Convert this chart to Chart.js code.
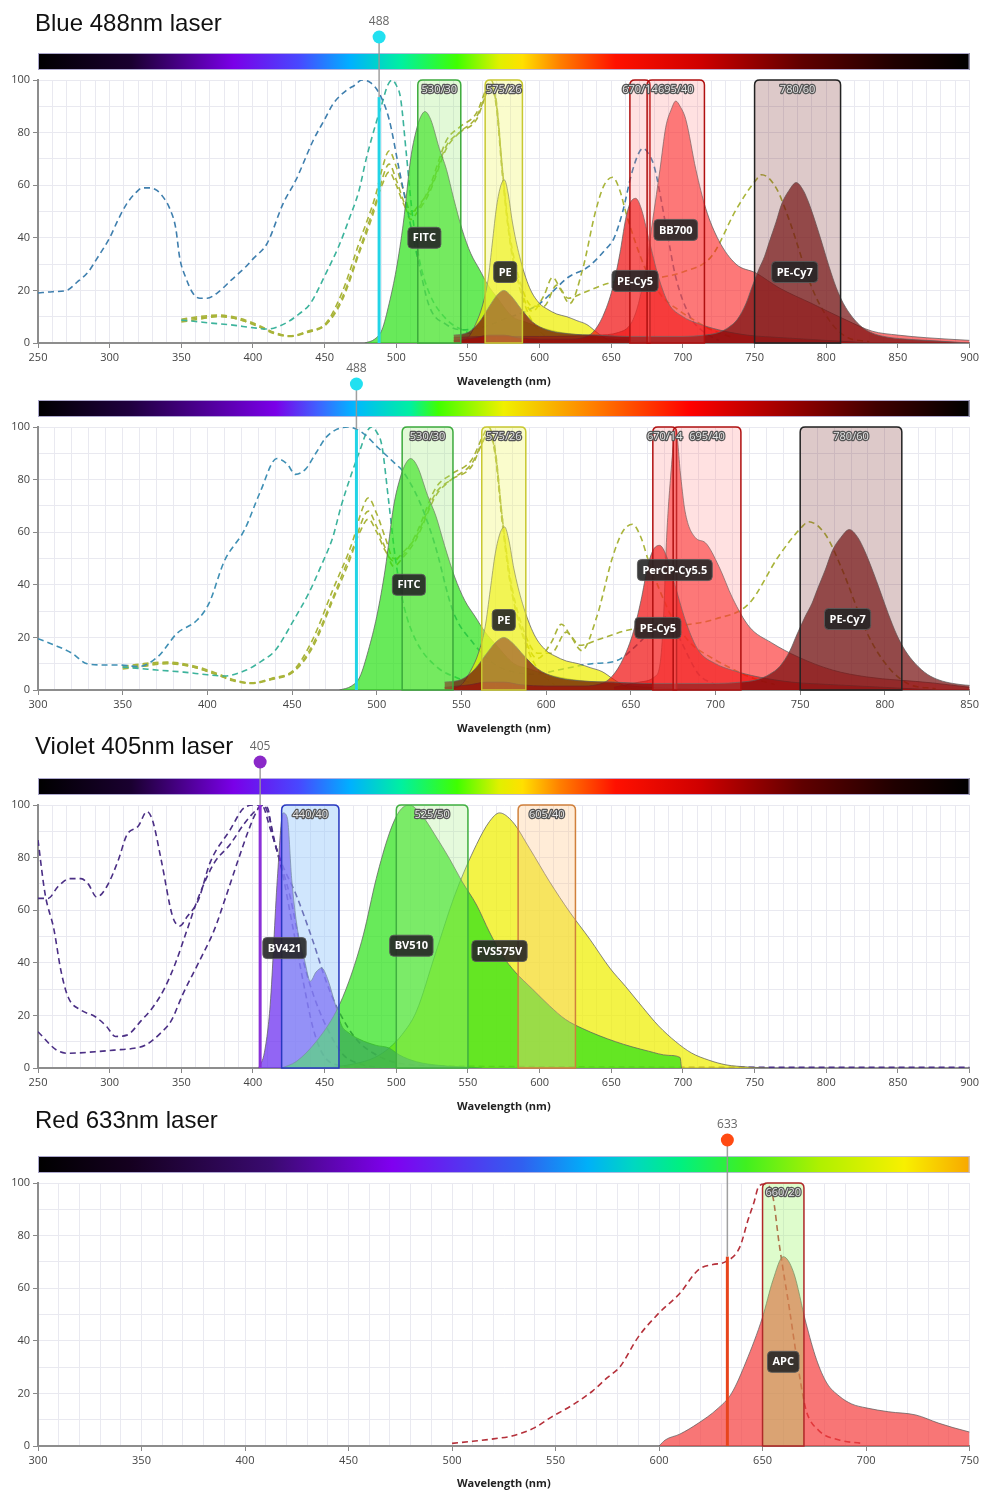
<!DOCTYPE html>
<html>
<head>
<meta charset="utf-8">
<title>Fluorochrome spectra</title>
<script src="https://cdn.jsdelivr.net/npm/chart.js"></script>
<style>
  body { margin: 0; background: #fff; }
  #page { position: relative; width: 982px; height: 1490px; overflow: hidden; }
  .panel { position: absolute; left: 0; width: 982px; }
  .title { position: absolute; left: 35px; font: 24px "Liberation Sans", Arial, sans-serif; color: #111; line-height: 28px; white-space: nowrap; }
</style>
</head>
<body>
<div id="page">
  <div class="panel" style="top:0px;height:392px"><canvas id="c1"></canvas></div>
  <div class="panel" style="top:330px;height:409px"><canvas id="c2"></canvas></div>
  <div class="panel" style="top:720px;height:397px"><canvas id="c3"></canvas></div>
  <div class="panel" style="top:1100px;height:390px"><canvas id="c4"></canvas></div>
  <div class="title" style="top:9px">Blue 488nm laser</div>
  <div class="title" style="top:732px">Violet 405nm laser</div>
  <div class="title" style="top:1106px">Red 633nm laser</div>
</div>

<script>
// ---------- shared spectra (blue laser panels) ----------
var fitcExNm = [350,360,370,386,400,410,423,432,440,451,460,467,474,479,485,490,494,497,500,503,507,511,516,523,535,546,560,580];
var fitcExVal = [8.7,8.2,7.6,6.8,5.8,5.3,7.6,11,15,26.6,37,47,58,70,82,91,98,100,98,93,72,50,32,19,9,5,2,0.5];

var peExNm = [350,362,376,390,405,415,426,438,451,462,474,486,490,495,500,505,510,515,523,535,544,556,563,566,570,574,579,586,595,605];
var peExVal = [9,10,10.6,9.5,6.5,4,2.7,4.5,7.6,19,38,57,66,73,67,58,50,51,59,77,82,87.5,97,100,91,66,40,21,8,2];

var peCy5ExNm = [350,362,376,390,405,415,426,438,451,462,474,486,490,495,500,505,510,515,523,535,544,556,563,566,570,574,579,586,595,
                 603,609,615,621,630,639,645,651,656,660,667,674,685,697,710,720,735];
var peCy5ExVal = [8,9,10,9,6,3.5,2.5,4,7,16,34,53,62,68,62,54,47,50,57,74,80,86,95,98,89,64,40,22,12,
                  18,25,20,15,28,50,60,63,58,50,38,28,18,12.5,8,5,2];

var peCy7ExNm = [350,362,376,390,405,415,426,438,451,462,474,486,490,495,500,505,510,515,523,535,544,556,563,566,570,574,579,586,595,
                 603,612,620,630,650,670,685,700,720,737,751,755,765,774,790,802,814,830];
var peCy7ExVal = [8.5,9.5,10.3,9,6,3.8,2.6,4.2,7.2,17,35,54,60,65,60,53,49,52,58,75,80,85,95,98,90,66,42,24,14,
                  14,22,17,19,23,24,25,27,33,50.6,62,64,59,47,21,8.7,2.3,0.5];

var fitcEmNm = [478,485,490,495,500,505,510,514,517,520,524,530,535,540,546,552,558,564,570,581,590,600,615,630,650,680,710];
var fitcEmVal = [0,1.5,5,15,28,46,70,81,86,88,85,74,66,55,43,34,28,22,17.5,10,8,6,4,3,1.5,0.5,0];

var peEmNm = [540,550,556,560,564,567,570,573,575.5,578,581,586,593,600,605,612,619,626,633,640,648,655];
var peEmVal = [0,2,8,14,24,38,52,60,62,57,46,33,21,15,13,11,10,8.5,7,4,1,0];

var peCy5EmNm = [540,555,565,575,585,600,620,630,637,644,651,656,660,663,667,671,676,683,690,700,710,725,745,770,800,830];
var peCy5EmVal = [1,2,3,3,2,1.5,1.5,2,4,10,21,34,47,53,55,51,40,25,15,10,7.5,5,3,2,1,0];

var peCy7EmNm = [540,550,558,565,570,575,580,587,595,605,620,640,660,680,700,715,725,732,738,744,
                 748,753,757,760,765,769,774,779,784,788,793,797,802,807,812,818,825,832,840,855,870,900];
var peCy7EmVal = [3,4,8,14,18,20,18,13,8,5,3.5,3,2.5,2.5,2.5,3,4,6,9,15,
                  21,28,33,38,46,53,58,61,58,53,45,38,29,21,15,10,6,3.8,2.5,1.5,1,0];

// ---------- panel 1: blue 488nm, BB700 ----------
var bb700ExNm = [250,260,270,277,285,291,300,306,312,318,323,328,333,338,342,346,349,353,358,363,
                 368,375,385,395,400,410,421,430,442,450,456,465,471,476,482,488,495,502,508,515,
                 523,535,546,560,575,590,600,610,620,634,645,652,658,664,669,672,676,680,688,695,705,715,725];
var bb700ExVal = [19,19.5,20,23,27,32,40,47,53,57,59,59,58,55,51,44,32,25,19,17,
                  17,19,24,29,32,38,53,62,77,85,91,96,98,100,99,95,85,66,50,32,
                  14,7,5,6,9,12,15,20,25,29,35,40,50,64,72,74,72,67,45,25,10,4,1];
var bb700EmNm = [540,560,600,640,655,664,669,674,679,684,688,692,695,698,702,709,716,725,737,751,767,790,814,832,850,870,900];
var bb700EmVal = [2,2.5,2.5,3,4,7.6,15,28,47,66,82,89,92,90,85,66,51,39,30,26.6,21,15,8.7,4.5,3,2,1];

var p1Filters = ['530/30', '575/26', '670/14', '695/40', '780/60'];
var p1Labels = ['FITC', 'PE', 'PE-Cy5', 'BB700', 'PE-Cy7'];
var p1LabelNm = [519.6, 576, 666.6, 695, 778];
var p1LabelVal = [40, 27, 23.6, 43, 27];

// ---------- panel 2: blue 488nm, PerCP-Cy5.5 ----------
var percpExNm = [300,310,320,329,340,348,359,371,382,394,401,410,422,431,441,447,452,458,464,470,
                 476,483,492,501,511,515,525,534,545,557,569,580,592,610,627,641,655,665,672,680,690,700];
var percpExVal = [19.5,17,14,10,9.5,9.5,8.9,12.8,21.5,26.6,33,49,61,75,88,86,82,84,90,96,
                  99,100,97.6,92,86,83.5,72,56,30,17.8,10,7,6,8,10,11,18,25,28,18,6,2];
var percpEmNm = [640,655,664,667.5,669.5,671,673.5,676.5,679.5,682,688,694,702,710,720,733,749,769,789,828,850];
var percpEmVal = [1,3,5,11,30,56,81,99,81,68,58,56,47,35,24,18,12.5,7.6,5,2.7,1];

var p2Filters = ['530/30', '575/26', '670/14', '695/40', '780/60'];
var p2Labels = ['FITC', 'PE', 'PerCP-Cy5.5', 'PE-Cy5', 'PE-Cy7'];
var p2LabelNm = [519, 575, 676, 666, 778];
var p2LabelVal = [40, 26.6, 45.6, 23.6, 27];

// ---------- panel 3: violet 405nm ----------
var vEx1Nm = [250,255,261,266,271,280,290,298,304,312,322,330,338,346,354,362,373,384,394,402,407,411,416,426,435,444,454,463,475,490];
var vEx1Val = [86.7,66,53,37,27,22,19.5,15.7,12,12.5,18,23,30,40,52.5,65,78,85,93,98,100,96,84,65,41,25,12.7,5,1.5,0];
var vEx2Nm = [250,257,264,272,280,285,291,298,306,312,320,326,330,336,344,349,354,362,370,384,
              394,402,410,414,420,430,442,451,460,472,486,500,520,600,700,800,900];
var vEx2Val = [64.5,64.5,69,72,72,70,65,69,79,88.6,92,97.5,94,79,57.5,54,57.5,64,78,90.5,
               99,100,99,88,78,66,48,33,21.5,11,5,2,1,0.5,0.3,0.3,0.3];
var vEx3Nm = [250,263,271,290,303,317,325,335,343,351,362,373,381,389,397,402,406,412,419,428,435,442,449,460,480];
var vEx3Val = [13.8,6.8,5.6,6.2,6.8,7.5,8.7,13,18,28,40,52.5,65,78,90.5,97,100,91,78,53,33,15,5,1,0];

var bv421EmNm = [404,408,412,417,421,424,427,431,436,440,444,448,452,457,462,466,474,486,495,502,514,530,560];
var bv421EmVal = [0,6,24,72,97,95,72,53,41,33,36.5,38,34,25,16,13.7,11,8.6,7.6,5,2.4,1,0];
var bv510EmNm = [420,430,444,458,467,477,486,495,502,509,518,527,537,546,556,565,574,583,595,607,618,630,653,676,690,698,699];
var bv510EmVal = [0,2.4,10,21.5,33,50.6,72,89,97.5,100,96,88.6,79.7,70.8,62,51.7,42.8,36.5,30,23.6,18.5,15,10,6.4,4.8,4,0];
var fvsEmNm = [450,470,485,495,504,514,527,541,556,565,572,581,593,607,621,635,649,660,672,683,695,706,718,730,745,760];
var fvsEmVal = [0,1.5,4,7.6,12.7,21.5,43,66,85,93.7,97,93.7,83.5,70.8,59.3,49,38,31,23,16,10,5.7,3,1.2,0.4,0];

var p3Filters = ['440/40', '525/50', '605/40'];
var p3Labels = ['BV421', 'BV510', 'FVS575V'];
var p3LabelNm = [422, 510.5, 572];
var p3LabelVal = [45.6, 46.5, 44.5];

// ---------- panel 4: red 633nm ----------
var apcExNm = [500,510,520,530,540,548,558,568,575,581,590,600,610,619,626,632,639,643,646,648,651,655,658,663,668,671,677,687,698];
var apcExVal = [1,1.8,2.7,4,7,11,15.5,21,26,30,41.5,50.6,58,67,69,70,75.6,86,93,98.5,99.6,94.7,77,52,26,13.7,6,2.3,1];
var apcEmNm = [600,603,610,619,628,635,642,650,655,660,665,671,676,681,687,693,700,711,724,735,742,750];
var apcEmVal = [0,2.3,4.5,8.7,14,20,32,49,63,72,66,46.7,33,24,19,16,14.5,13,11.8,8.7,7,5.3];

var p4Filters = ['660/20'];
var p4Labels = ['APC'];
var p4LabelNm = [660];
var p4LabelVal = [32];

// lasers: wavelength and drawn height of the coloured part
var laserNm = [488, 488, 405, 633];
var laserHeight = [93.5, 99, 100, 72];
var axisMin = [250, 300, 250, 300];
var axisMax = [900, 850, 900, 750];

// ---------- styles ----------
var BLUE_EX = '#3f7fae', TEAL_EX = '#3cb39c', OLIVE_EX = '#a9b43a', PURPLE_EX = '#4b2f85', RED_EX = '#b5303a';
var GREEN_FILL = 'rgba(40,225,20,0.70)', YELLOW_FILL = 'rgba(238,238,0,0.72)';

var spectrumFull = [[0,'#000000'],[0.1,'#1a0030'],[0.21,'#7a00e8'],[0.28,'#4848ff'],[0.335,'#00b0ff'],[0.39,'#00f0a0'],
                    [0.45,'#40ff00'],[0.495,'#e0f000'],[0.52,'#ffe000'],[0.56,'#ff8000'],[0.62,'#ff1000'],
                    [0.71,'#d00000'],[0.82,'#600000'],[0.92,'#200000'],[1,'#000000']];
var spectrum2 = [[0,'#000000'],[0.1,'#200040'],[0.255,'#7a00e8'],[0.30,'#4060ff'],[0.34,'#00b8ff'],[0.40,'#00f0a0'],
                 [0.43,'#40ff00'],[0.50,'#f0f000'],[0.595,'#ff8000'],[0.70,'#ff0000'],[0.80,'#a00000'],[0.90,'#400000'],[1,'#000000']];
var spectrum4 = [[0,'#000000'],[0.1,'#150020'],[0.25,'#3a0a70'],[0.38,'#8000f0'],[0.52,'#3060f0'],[0.59,'#00b0f8'],
                 [0.64,'#00d8c0'],[0.69,'#00f080'],[0.76,'#40f020'],[0.84,'#b0f000'],[0.93,'#f8f000'],[1,'#f8a800']];

function pts(nm, val) {
  return nm.map(function (x, i) { return { x: x, y: val[i] }; });
}
function em(label, nm, val, color, order) {
  return { label: label, data: pts(nm, val), fill: 'origin', backgroundColor: color,
           borderColor: 'rgba(95,95,95,0.75)', borderWidth: 1, pointRadius: 0,
           cubicInterpolationMode: 'monotone', order: order };
}
function ex(label, nm, val, color) {
  return { label: label, data: pts(nm, val), fill: false, borderColor: color, borderWidth: 1.6,
           borderDash: [6, 4], pointRadius: 0, cubicInterpolationMode: 'monotone', order: 100 };
}

function roundTop(ctx, x, y, w, h, r) {
  ctx.beginPath();
  ctx.moveTo(x, y + h);
  ctx.lineTo(x, y + r);
  ctx.quadraticCurveTo(x, y, x + r, y);
  ctx.lineTo(x + w - r, y);
  ctx.quadraticCurveTo(x + w, y, x + w, y + r);
  ctx.lineTo(x + w, y + h);
  ctx.closePath();
}
function roundBox(ctx, x, y, w, h, r) {
  ctx.beginPath();
  ctx.moveTo(x + r, y);
  ctx.lineTo(x + w - r, y); ctx.quadraticCurveTo(x + w, y, x + w, y + r);
  ctx.lineTo(x + w, y + h - r); ctx.quadraticCurveTo(x + w, y + h, x + w - r, y + h);
  ctx.lineTo(x + r, y + h); ctx.quadraticCurveTo(x, y + h, x, y + h - r);
  ctx.lineTo(x, y + r); ctx.quadraticCurveTo(x, y, x + r, y);
  ctx.closePath();
}

var spectraPlugin = {
  id: 'spectra',
  afterDatasetsDraw: function (chart) {
    var p = chart.canvas.panel, ctx = chart.ctx, xs = chart.scales.x, ys = chart.scales.y;
    var top = ys.getPixelForValue(100), bottom = ys.getPixelForValue(0);
    ctx.save();
    p.filters.forEach(function (name, i) {
      var cw = name.split('/').map(Number);
      var x1 = xs.getPixelForValue(cw[0] - cw[1] / 2), x2 = xs.getPixelForValue(cw[0] + cw[1] / 2);
      roundTop(ctx, x1, top, x2 - x1, bottom - top, 5);
      ctx.fillStyle = p.filterFill[i];
      ctx.fill();
      ctx.strokeStyle = p.filterLine[i];
      ctx.lineWidth = 1.5;
      ctx.stroke();
    });
    var lx = xs.getPixelForValue(p.laser);
    ctx.strokeStyle = p.laserColor;
    ctx.lineWidth = 3;
    ctx.beginPath();
    ctx.moveTo(lx, bottom);
    ctx.lineTo(lx, ys.getPixelForValue(p.laserHeight));
    ctx.stroke();
    ctx.restore();
  },
  afterDraw: function (chart) {
    var p = chart.canvas.panel, ctx = chart.ctx, xs = chart.scales.x, ys = chart.scales.y, a = chart.chartArea;
    ctx.save();
    // spectrum bar
    var barY = a.top - 27;
    var g = ctx.createLinearGradient(a.left, 0, a.right, 0);
    p.bar.forEach(function (s) { g.addColorStop(s[0], s[1]); });
    ctx.fillStyle = g;
    ctx.fillRect(a.left, barY, a.right - a.left, 17);
    ctx.strokeStyle = 'rgba(190,185,225,0.9)';
    ctx.lineWidth = 1;
    ctx.strokeRect(a.left + 0.5, barY + 0.5, a.right - a.left - 1, 16);

    // laser stem, dot and label
    var lx = xs.getPixelForValue(p.laser);
    var dotY = a.top - 43;
    ctx.strokeStyle = 'rgba(150,150,150,0.9)';
    ctx.lineWidth = 1.5;
    ctx.beginPath();
    ctx.moveTo(lx, dotY);
    ctx.lineTo(lx, ys.getPixelForValue(p.laserHeight));
    ctx.stroke();
    ctx.fillStyle = p.dotColor;
    ctx.beginPath();
    ctx.arc(lx, dotY, 6.5, 0, Math.PI * 2);
    ctx.fill();
    ctx.fillStyle = '#666';
    ctx.font = '12px "Open Sans", "Noto Sans", sans-serif';
    ctx.textAlign = 'center';
    ctx.textBaseline = 'middle';
    ctx.fillText(String(p.laser), lx, a.top - 58);

    // filter names
    var top = ys.getPixelForValue(100);
    ctx.font = '11px "Open Sans", "Noto Sans", sans-serif';
    ctx.lineJoin = 'round';
    p.filters.forEach(function (name) {
      var c = Number(name.split('/')[0]);
      var x = xs.getPixelForValue(c);
      ctx.strokeStyle = '#555';
      ctx.lineWidth = 2.5;
      ctx.strokeText(name, x, top + 10);
      ctx.fillStyle = '#e6e6e6';
      ctx.fillText(name, x, top + 10);
    });

    // dye badges
    ctx.font = 'bold 11px "Open Sans", "Noto Sans", sans-serif';
    p.labels.forEach(function (name, i) {
      var x = xs.getPixelForValue(p.labelNm[i]), y = ys.getPixelForValue(p.labelVal[i]);
      var w = ctx.measureText(name).width + 10, h = 21;
      roundBox(ctx, x - w / 2, y - h / 2, w, h, 4);
      ctx.fillStyle = 'rgba(38,38,38,0.9)';
      ctx.fill();
      ctx.strokeStyle = 'rgba(90,90,90,0.9)';
      ctx.lineWidth = 1;
      ctx.stroke();
      ctx.fillStyle = '#fff';
      ctx.fillText(name, x, y + 0.5);
    });
    ctx.restore();
  }
};

Chart.defaults.font.family = '"Open Sans", "Noto Sans", sans-serif';
Chart.defaults.font.size = 11;

function makePanel(id, cfg) {
  var canvas = document.getElementById(id);
  canvas.panel = cfg;
  return new Chart(canvas, {
    type: 'line',
    data: { datasets: cfg.datasets },
    plugins: [spectraPlugin],
    options: {
      responsive: true,
      maintainAspectRatio: false,
      animation: false,
      events: [],
      layout: { autoPadding: false, padding: { top: cfg.padTop, right: 11, bottom: 0, left: 0 } },
      plugins: { legend: { display: false }, tooltip: { enabled: false } },
      scales: {
        x: {
          type: 'linear', min: cfg.min, max: cfg.max,
          afterFit: function (s) { s.height = cfg.xHeight; },
          ticks: { stepSize: 10, autoSkip: false, maxRotation: 0, padding: 3, color: '#444',
                   callback: function (v) { return v % 50 === 0 ? v : ''; } },
          grid: { color: '#e9e9f0', lineWidth: 1, tickLength: 5,
                  tickColor: function (c) { return c.tick && c.tick.value % 50 === 0 ? '#888' : 'rgba(0,0,0,0)'; } },
          border: { color: '#8d8d8d', width: 2 },
          title: { display: true, text: 'Wavelength (nm)', color: '#222',
                   font: { size: 11, weight: 'bold' }, padding: { top: 4, bottom: cfg.titlePadBottom } }
        },
        y: {
          min: 0, max: 100,
          afterFit: function (s) { s.width = 38; },
          ticks: { stepSize: 10, padding: 3, color: '#444',
                   callback: function (v) { return v % 20 === 0 ? v : ''; } },
          grid: { color: '#e9e9f0', lineWidth: 1, tickLength: 5,
                  tickColor: function (c) { return c.tick && c.tick.value % 20 === 0 ? '#888' : 'rgba(0,0,0,0)'; } },
          border: { color: '#8d8d8d', width: 2 }
        }
      }
    }
  });
}

var REDBOX = 'rgba(255,120,120,0.22)';

makePanel('c1', {
  min: axisMin[0], max: axisMax[0], padTop: 80, xHeight: 49, titlePadBottom: 4,
  laser: laserNm[0], laserHeight: laserHeight[0], laserColor: '#22d4e6', dotColor: '#22e0f0', bar: spectrumFull,
  filters: p1Filters,
  filterFill: ['rgba(150,235,110,0.28)', 'rgba(240,245,110,0.35)', REDBOX, REDBOX, 'rgba(120,40,40,0.25)'],
  filterLine: ['#3caa3c', '#c8c830', '#b01010', '#b01010', '#222'],
  labels: p1Labels, labelNm: p1LabelNm, labelVal: p1LabelVal,
  datasets: [
    em('PE-Cy7', peCy7EmNm, peCy7EmVal, 'rgba(115,12,12,0.70)', 1),
    em('PE-Cy5', peCy5EmNm, peCy5EmVal, 'rgba(240,12,12,0.70)', 2),
    em('BB700', bb700EmNm, bb700EmVal, 'rgba(252,30,30,0.60)', 3),
    em('PE', peEmNm, peEmVal, YELLOW_FILL, 4),
    em('FITC', fitcEmNm, fitcEmVal, GREEN_FILL, 5),
    ex('BB700 ex', bb700ExNm, bb700ExVal, BLUE_EX),
    ex('FITC ex', fitcExNm, fitcExVal, TEAL_EX),
    ex('PE ex', peExNm, peExVal, OLIVE_EX),
    ex('PE-Cy5 ex', peCy5ExNm, peCy5ExVal, OLIVE_EX),
    ex('PE-Cy7 ex', peCy7ExNm, peCy7ExVal, OLIVE_EX)
  ]
});

makePanel('c2', {
  min: axisMin[1], max: axisMax[1], padTop: 97, xHeight: 49, titlePadBottom: 4,
  laser: laserNm[1], laserHeight: laserHeight[1], laserColor: '#22d4e6', dotColor: '#22e0f0', bar: spectrum2,
  filters: p2Filters,
  filterFill: ['rgba(150,235,110,0.28)', 'rgba(240,245,110,0.35)', REDBOX, REDBOX, 'rgba(120,40,40,0.25)'],
  filterLine: ['#3caa3c', '#c8c830', '#b01010', '#b01010', '#222'],
  labels: p2Labels, labelNm: p2LabelNm, labelVal: p2LabelVal,
  datasets: [
    em('PE-Cy7', peCy7EmNm, peCy7EmVal, 'rgba(115,12,12,0.70)', 1),
    em('PE-Cy5', peCy5EmNm, peCy5EmVal, 'rgba(240,12,12,0.70)', 2),
    em('PerCP-Cy5.5', percpEmNm, percpEmVal, 'rgba(252,30,30,0.60)', 3),
    em('PE', peEmNm, peEmVal, YELLOW_FILL, 4),
    em('FITC', fitcEmNm, fitcEmVal, GREEN_FILL, 5),
    ex('PerCP-Cy5.5 ex', percpExNm, percpExVal, '#3f8fb4'),
    ex('FITC ex', fitcExNm, fitcExVal, TEAL_EX),
    ex('PE ex', peExNm, peExVal, OLIVE_EX),
    ex('PE-Cy5 ex', peCy5ExNm, peCy5ExVal, OLIVE_EX),
    ex('PE-Cy7 ex', peCy7ExNm, peCy7ExVal, OLIVE_EX)
  ]
});

makePanel('c3', {
  min: axisMin[2], max: axisMax[2], padTop: 85, xHeight: 49, titlePadBottom: 4,
  laser: laserNm[2], laserHeight: laserHeight[2], laserColor: '#8a30d8', dotColor: '#8a28c8', bar: spectrumFull,
  filters: p3Filters,
  filterFill: ['rgba(150,200,250,0.45)', 'rgba(170,240,140,0.30)', 'rgba(255,200,140,0.35)'],
  filterLine: ['#2838c0', '#40b040', '#d0803c'],
  labels: p3Labels, labelNm: p3LabelNm, labelVal: p3LabelVal,
  datasets: [
    em('BV510', bv510EmNm, bv510EmVal, GREEN_FILL, 1),
    em('BV421', bv421EmNm, bv421EmVal, 'rgba(110,50,240,0.75)', 2),
    em('FVS575V', fvsEmNm, fvsEmVal, YELLOW_FILL, 3),
    ex('ex 1', vEx1Nm, vEx1Val, PURPLE_EX),
    ex('ex 2', vEx2Nm, vEx2Val, PURPLE_EX),
    ex('ex 3', vEx3Nm, vEx3Val, PURPLE_EX)
  ]
});

makePanel('c4', {
  min: axisMin[3], max: axisMax[3], padTop: 83, xHeight: 44, titlePadBottom: 0,
  laser: laserNm[3], laserHeight: laserHeight[3], laserColor: '#e8441c', dotColor: '#ff4a12', bar: spectrum4,
  filters: p4Filters,
  filterFill: ['rgba(160,245,110,0.35)'],
  filterLine: ['#b02828'],
  labels: p4Labels, labelNm: p4LabelNm, labelVal: p4LabelVal,
  datasets: [
    em('APC', apcEmNm, apcEmVal, 'rgba(245,60,60,0.70)', 1),
    ex('APC ex', apcExNm, apcExVal, RED_EX)
  ]
});
</script>
</body>
</html>
